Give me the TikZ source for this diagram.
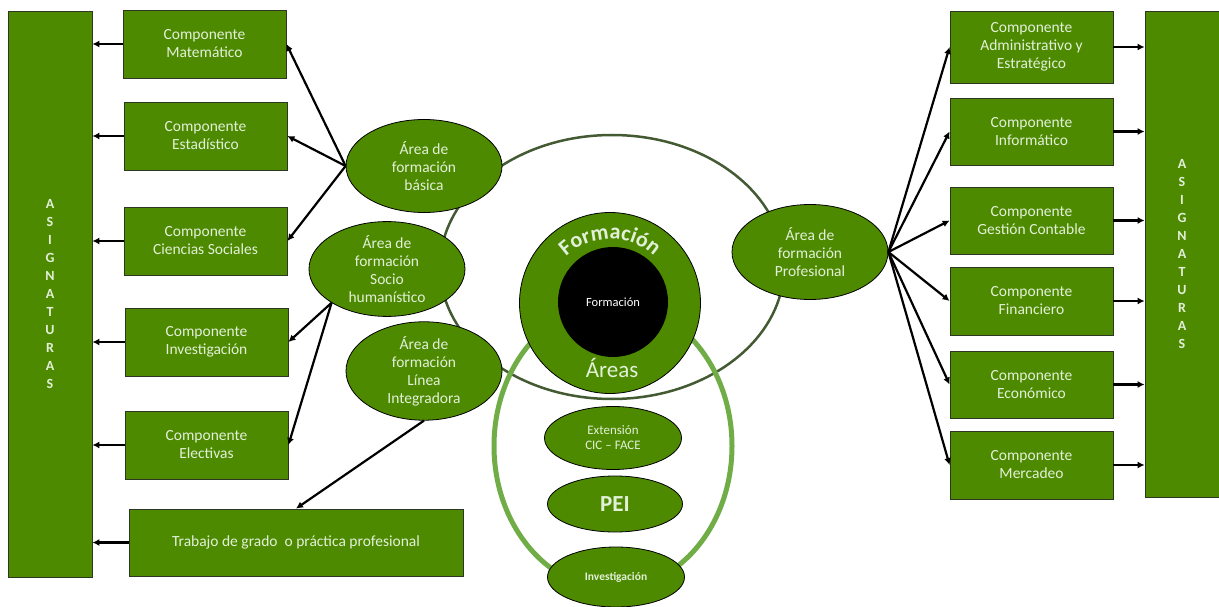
\documentclass[tikz,border=0pt]{standalone}
\usepackage{fontspec}
\setmainfont{Carlito}
\usepackage{xcolor}
\usetikzlibrary{shapes.geometric,arrows.meta,decorations.text}

\definecolor{compgreen}{RGB}{78,138,0}
\definecolor{txtgreen}{RGB}{226,240,217}
\definecolor{ringgreen}{RGB}{112,173,71}
\definecolor{edgegreen}{RGB}{67,90,50}
\definecolor{boxline}{RGB}{45,55,35}

\tikzset{
  comp/.style={rectangle, draw=boxline, line width=0.8pt, fill=compgreen, text=txtgreen,
    minimum width=163pt, minimum height=68pt, align=center,
    font=\fontsize{15.5}{18}\selectfont},
  asig/.style={rectangle, draw=boxline, line width=0.8pt, fill=compgreen, text=txtgreen,
    align=center, font=\bfseries\fontsize{14}{18}\selectfont},
  area/.style={ellipse, draw=black, line width=0.8pt, fill=compgreen, text=txtgreen,
    minimum width=156pt, minimum height=93pt, inner sep=0pt, align=center,
    font=\fontsize{15.5}{18}\selectfont},
  peiarea/.style={ellipse, draw=black, line width=0.8pt, fill=compgreen, text=txtgreen,
    minimum width=137pt, minimum height=60pt, inner sep=0pt, align=center},
  arr/.style={-{Latex[length=7pt,width=7pt]}, line width=2.2pt},
}

\begin{document}
\begin{tikzpicture}[x=1pt,y=-1pt]
    \useasboundingbox (0,0) rectangle (1219,607);

    % Big ellipse and PEI ring
    \node[ellipse, draw=edgegreen, line width=2.5pt, fill=white,
      minimum width=344pt, minimum height=264pt] (areasring) at (612,267) {};
    \node[ellipse, draw=ringgreen, line width=5pt,
      minimum width=238pt, minimum height=286pt] (peiring) at (613,446) {};

    % Formacion circle
    \node[circle, draw=black, line width=0.8pt, fill=compgreen, minimum size=181pt] (formc) at (610,303) {};
    \node[circle, fill=black, minimum size=110pt, text=white,
      font=\fontsize{12.5}{14}\selectfont] (core) at (613,302) {Formación};
    \path[decorate, decoration={text along path, text align=center, text color=txtgreen,
      text={|\bfseries\fontsize{22}{24}\selectfont|Formación}}]
      ([shift={(200:64)}]formc.center) arc[start angle=200, end angle=340, radius=64];
    \node[text=txtgreen, font=\fontsize{23}{26}\selectfont] (areas) at (612,368) {Áreas};

    % PEI
    \node[peiarea, minimum height=63pt, font=\fontsize{13}{15}\selectfont] (ext) at (613,438) {Extensión\\CIC -- FACE};
    \node[peiarea, minimum width=135pt, minimum height=56pt, font=\bfseries\fontsize{23}{26}\selectfont] (pei) at (615,504) {PEI};
    \node[peiarea, font=\bfseries\fontsize{11.5}{14}\selectfont] (invs) at (616,577) {Investigación};

    % Areas
    \node[area] (bas) at (424,166) {Área de\\formación\\básica};
    \node[area] (soc) at (387,269) {Área de\\formación\\Socio\\humanístico};
    \node[area] (lin) at (424,371) {Área de\\formación\\Línea\\Integradora};
    \node[area, minimum height=95pt] (pro) at (810,252) {Área de\\formación\\Profesional};

    % Left side
    \node[asig, minimum width=84pt, minimum height=566pt] (lbar) at (50,294) {A\\S\\I\\G\\N\\A\\T\\U\\R\\A\\S};
    \node[comp] (mat) at (204.5,44) {Componente\\Matemático};
    \node[comp] (est) at (205.5,136) {Componente\\Estadístico};
    \node[comp] (cie) at (205.5,241) {Componente\\Ciencias Sociales};
    \node[comp] (inv) at (206.5,342) {Componente\\Investigación};
    \node[comp] (ele) at (206.5,445) {Componente\\Electivas};
    \node[comp, minimum width=334pt, minimum height=67pt] (tra) at (296,542.5) {Trabajo de grado\ \ o práctica profesional};

    % Right side
    \node[asig, minimum width=74pt, minimum height=486pt] (rbar) at (1182,254) {A\\S\\I\\G\\N\\A\\T\\U\\R\\A\\S};
    \node[comp, minimum height=72pt] (adm) at (1031.5,47) {Componente\\Administrativo y\\Estratégico};
    \node[comp, minimum height=67pt] (inf) at (1031.5,131.5) {Componente\\Informático};
    \node[comp, minimum height=67pt] (ges) at (1031.5,220.5) {Componente\\Gestión Contable};
    \node[comp] (fin) at (1031.5,301) {Componente\\Financiero};
    \node[comp, minimum height=67pt] (eco) at (1031.5,384.5) {Componente\\Económico};
    \node[comp] (mer) at (1031.5,465) {Componente\\Mercadeo};

    % Arrows left
    \foreach \c in {mat,est,cie,inv,ele,tra}
      \draw[arr] (\c.west) -- (\c.west -| lbar.east);
    \foreach \c in {mat,est,cie}
      \draw[arr] (bas.west) -- (\c.east);
    \foreach \c in {inv,ele}
      \draw[arr] (soc.south west) -- (\c.east);
    \draw[arr] (lin.south) -- (tra.north);

    % Arrows right
    \foreach \c in {adm,inf,ges,fin,eco,mer}{
      \draw[arr] (pro.east) -- (\c.west);
      \draw[arr] (\c.east) -- (\c.east -| rbar.west);
    }
\end{tikzpicture}
\end{document}
